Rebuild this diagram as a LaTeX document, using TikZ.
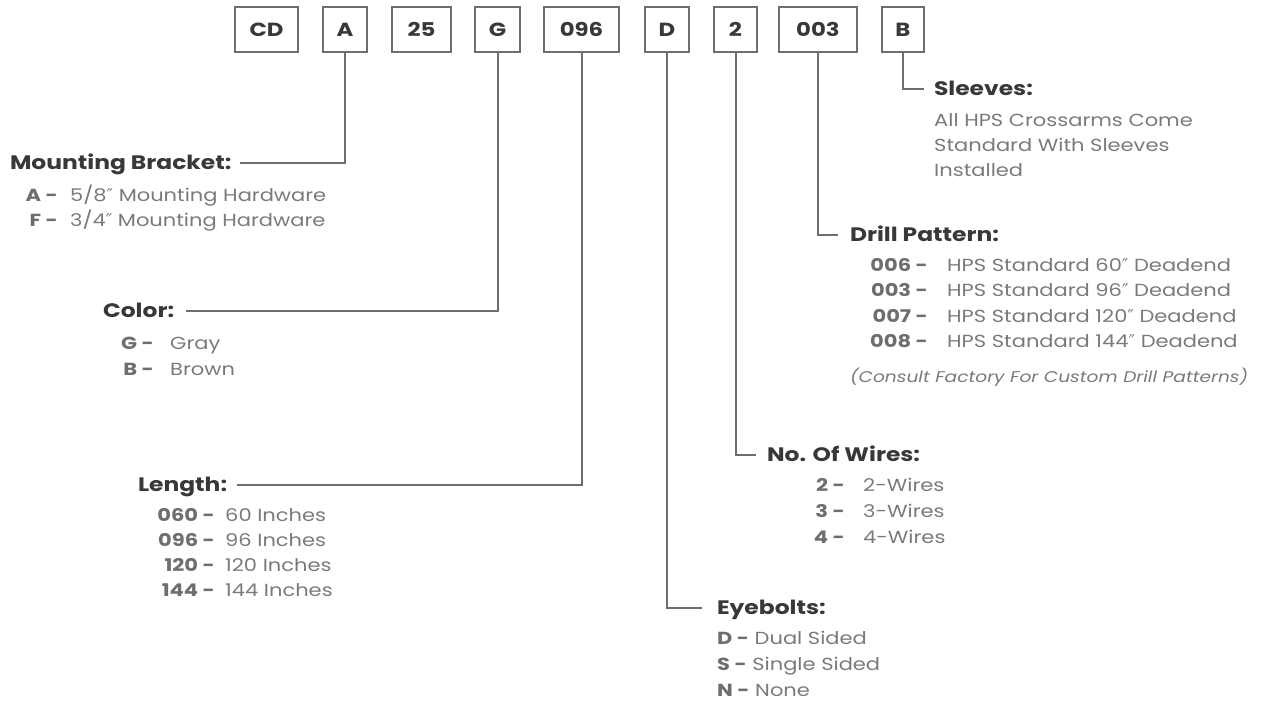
\documentclass[tikz,border=0pt]{standalone}
\usepackage{fontspec}
\setmainfont{Poppins}[FakeStretch=1.2]
\newfontfamily\dpfont{DejaVu Sans}
\newcommand\dq{{\dpfont ″}}
\definecolor{boxc}{HTML}{6E6E6E}
\definecolor{headc}{HTML}{383838}
\definecolor{codec}{HTML}{6E6E6E}
\definecolor{descc}{HTML}{7A7A7A}
\tikzset{
  pbox/.style={draw=boxc, line width=2.5pt, inner sep=0pt, minimum height=45pt,
    font=\fontsize{19}{22}\selectfont\bfseries, text=headc},
  conn/.style={draw=boxc, line width=2pt},
  head/.style={inner sep=0pt, outer sep=0pt, anchor=west, text height=13.7pt, text depth=0pt,
    font=\fontsize{19.5}{23}\selectfont\bfseries, text=headc},
  codet/.style={inner sep=0pt, anchor=east, text height=12.2pt, text depth=0pt,
    font=\fontsize{17.5}{22}\selectfont\bfseries, text=codec},
  desct/.style={inner sep=0pt, anchor=west, text height=12.2pt, text depth=0pt,
    font=\fontsize{17.5}{22}\selectfont, text=descc},
}
\newcommand\rowitem[6]{%
  \node[codet] (#1c) at (#2,#4) {#5};
  \node[desct] (#1d) at (#3,#4) {#6};}
\begin{document}
\begin{tikzpicture}[x=1pt,y=-1pt]
\useasboundingbox (0,0) rectangle (1264,702);
% code boxes
\node[pbox, minimum width=63pt] (bCD) at (266.5,29.5) {CD};
\node[pbox, minimum width=44pt] (bA) at (345,29.5) {A};
\node[pbox, minimum width=59pt] (b25) at (421.5,29.5) {25};
\node[pbox, minimum width=45pt] (bG) at (497.5,29.5) {G};
\node[pbox, minimum width=75pt] (b096) at (581.5,29.5) {096};
\node[pbox, minimum width=44pt] (bD) at (667,29.5) {D};
\node[pbox, minimum width=43pt] (b2) at (735.5,29.5) {2};
\node[pbox, minimum width=78pt] (b003) at (818,29.5) {003};
\node[pbox, minimum width=42pt] (bB) at (903,29.5) {B};
% headings
\node[head] (hMount) at (10,163) {Mounting Bracket:};
\node[head] (hColor) at (103,311) {Color:};
\node[head] (hLength) at (138,485) {Length:};
\node[head] (hWires) at (767,455) {No. Of Wires:};
\node[head] (hEye) at (717,608) {Eyebolts:};
\node[head] (hDrill) at (850,235) {Drill Pattern:};
\node[head] (hSleeve) at (934,89) {Sleeves:};
% connectors
\draw[conn] (bA.south) |- ([xshift=9pt]hMount.east);
\draw[conn] (bG.south) |- ([xshift=12pt]hColor.east);
\draw[conn] (b096.south) |- ([xshift=10pt]hLength.east);
\draw[conn] (bD.south) |- ([xshift=-15pt]hEye.west);
\draw[conn] (b2.south) |- ([xshift=-11pt]hWires.west);
\draw[conn] (b003.south) |- ([xshift=-12pt]hDrill.west);
\draw[conn] (bB.south) |- ([xshift=-10pt]hSleeve.west);
% mounting bracket
\rowitem{mA}{58}{70}{195}{A -}{5/8\dq{} Mounting Hardware}
\rowitem{mF}{58}{70}{220}{F -}{3/4\dq{} Mounting Hardware}
% color
\rowitem{cG}{154}{170}{343}{G -}{Gray}
\rowitem{cB}{154}{170}{369}{B -}{Brown}
% length
\rowitem{l1}{215}{225}{515}{060 -}{60 Inches}
\rowitem{l2}{215}{225}{540}{096 -}{96 Inches}
\rowitem{l3}{215}{225}{565}{120 -}{120 Inches}
\rowitem{l4}{215}{225}{590}{144 -}{144 Inches}
% wires
\rowitem{w2}{845}{863}{485}{2 -}{2-Wires}
\rowitem{w3}{845}{863}{511}{3 -}{3-Wires}
\rowitem{w4}{845}{863}{537}{4 -}{4-Wires}
% drill
\rowitem{d1}{928}{947}{265}{006 -}{HPS Standard 60\dq{} Deadend}
\rowitem{d2}{928}{947}{290}{003 -}{HPS Standard 96\dq{} Deadend}
\rowitem{d3}{928}{947}{316}{007 -}{HPS Standard 120\dq{} Deadend}
\rowitem{d4}{928}{947}{341}{008 -}{HPS Standard 144\dq{} Deadend}
\node[desct, font=\fontsize{15.5}{20}\selectfont\itshape] (dNote) at (850,376) {(Consult Factory For Custom Drill Patterns)};
% eyebolts
\node[desct] (eD) at (717,638) {\textcolor{codec}{\bfseries D -} Dual Sided};
\node[desct] (eS) at (717,664) {\textcolor{codec}{\bfseries S -} Single Sided};
\node[desct] (eN) at (717,690) {\textcolor{codec}{\bfseries N -} None};
% sleeves
\node[desct] (s1) at (934,120) {All HPS Crossarms Come};
\node[desct] (s2) at (934,145) {Standard With Sleeves};
\node[desct] (s3) at (934,170) {Installed};
\end{tikzpicture}
\end{document}
